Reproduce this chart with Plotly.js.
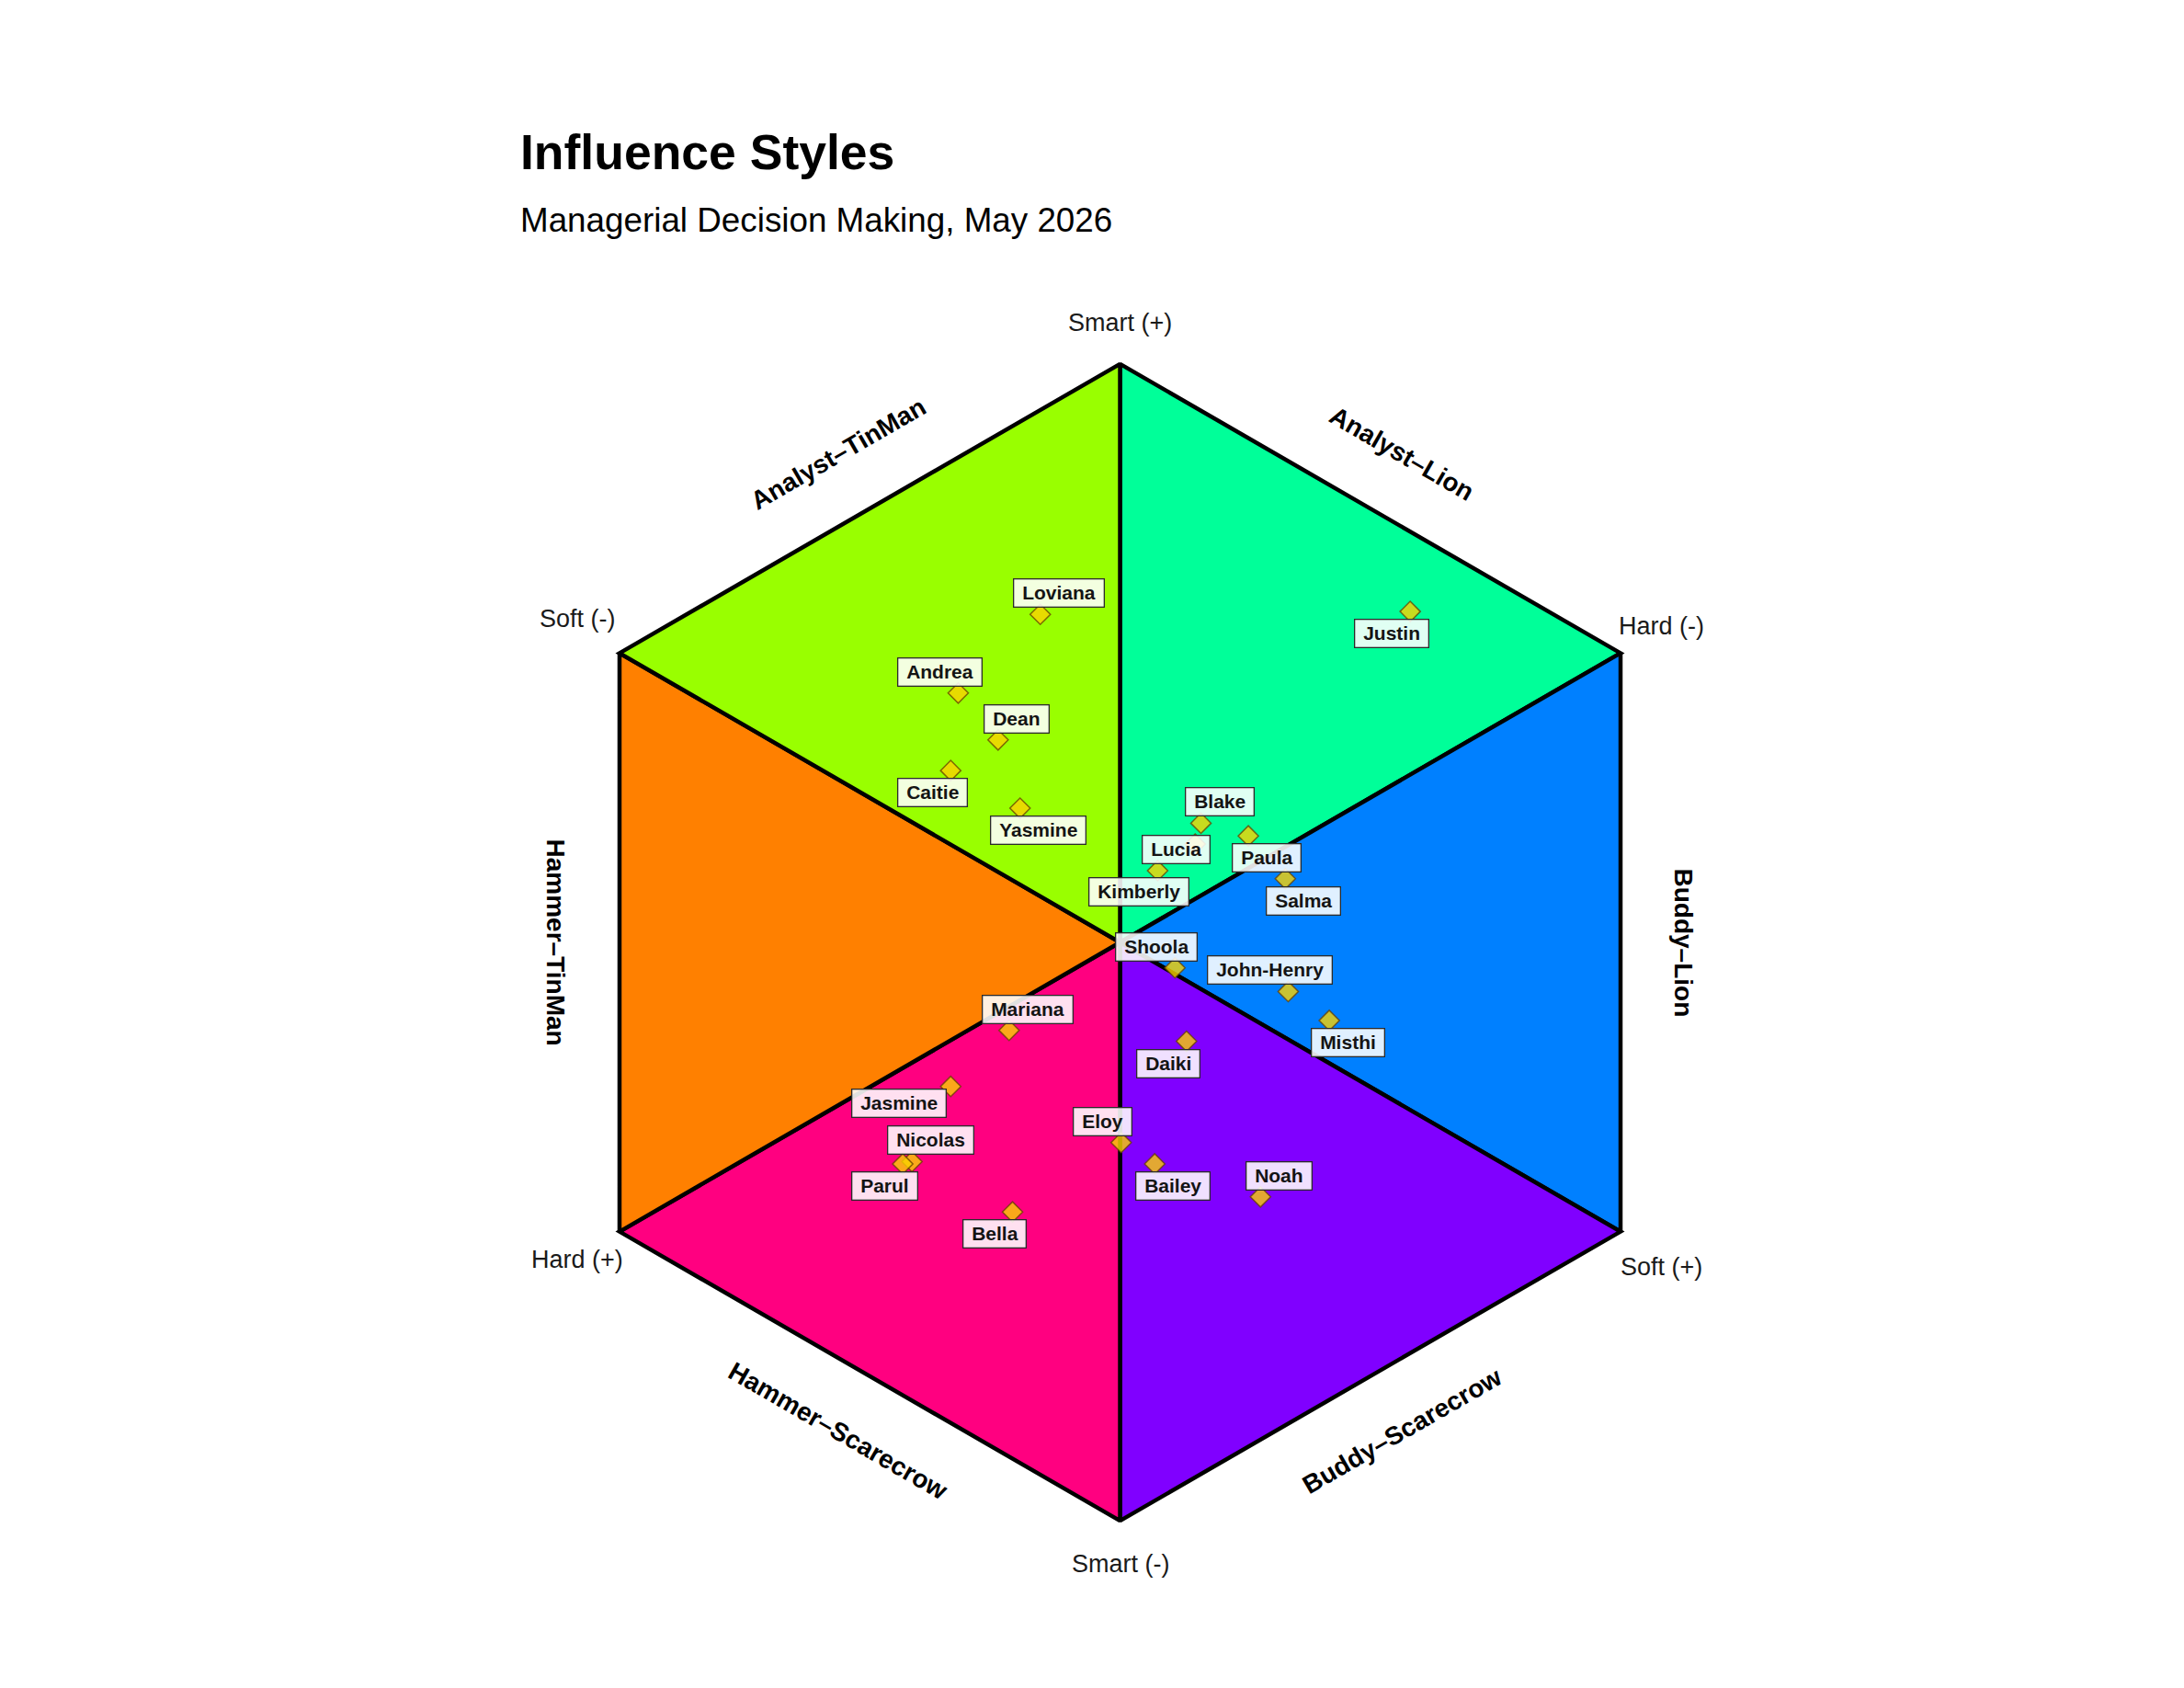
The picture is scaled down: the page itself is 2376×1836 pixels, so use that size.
<!DOCTYPE html>
<html>
<head>
<meta charset="utf-8">
<script src="https://cdn.plot.ly/plotly-3.0.1.min.js"></script>
<style>
  body { margin: 0; background: #fff; }
  #hexPlot { width: 2376px; height: 1836px; }
</style>
</head>
<body>
<div id="hexPlot"></div>
<script>
// People and their position on the influence hexagon (hexagon radius = 1)
const names = ['Loviana', 'Andrea', 'Dean', 'Caitie', 'Yasmine', 'Justin', 'Blake', 'Paula',
  'Lucia', 'Kimberly', 'Salma', 'Shoola', 'John-Henry', 'Misthi', 'Daiki', 'Mariana',
  'Jasmine', 'Nicolas', 'Parul', 'Bella', 'Eloy', 'Bailey', 'Noah'];
const xValues = [-0.138, -0.280, -0.211, -0.293, -0.173, 0.502, 0.140, 0.222,
  0.065, 0.130, 0.286, 0.095, 0.291, 0.362, 0.115, -0.192,
  -0.293, -0.360, -0.376, -0.186, 0.002, 0.060, 0.243];
const yValues = [0.567, 0.431, 0.350, 0.297, 0.232, 0.572, 0.206, 0.184,
  0.124, 0.170, 0.110, -0.044, -0.085, -0.135, -0.171, -0.152,
  -0.249, -0.379, -0.383, -0.466, -0.346, -0.383, -0.440];
// which side of the marker the name tag sits on
const labelDir = ['NE', 'NW', 'NE', 'SW', 'SE', 'SW', 'NE', 'SE',
  'NE', 'SW2', 'SE', 'NW', 'NW', 'SE', 'SW', 'NE',
  'W', 'NE', 'SW', 'SW', 'NW', 'SE', 'NE'];

// Hexagon: corners and sectors, going clockwise from the top
const cornerAngles = [90, 30, -30, -90, -150, 150];
const cornerLabels = ['Smart (+)', 'Hard (-)', 'Soft (+)', 'Smart (-)', 'Hard (+)', 'Soft (-)'];
const sectorNames = ['Analyst\u2013Lion', 'Buddy\u2013Lion', 'Buddy\u2013Scarecrow',
  'Hammer\u2013Scarecrow', 'Hammer\u2013TinMan', 'Analyst\u2013TinMan'];
const sectorColors = ['#00FF99', '#0080FF', '#8000FF', '#FF0080', '#FF8000', '#99FF00'];

const FONT = 'Liberation Sans, Arial, Helvetica, sans-serif';
const rad = d => d * Math.PI / 180;
const corner = i => [Math.cos(rad(cornerAngles[i % 6])), Math.sin(rad(cornerAngles[i % 6]))];

const traces = [];

// coloured triangles
sectorNames.forEach((name, i) => {
  const a = corner(i), b = corner(i + 1);
  traces.push({
    x: [0, a[0], b[0], 0],
    y: [0, a[1], b[1], 0],
    mode: 'lines',
    fill: 'toself',
    fillcolor: sectorColors[i],
    line: { color: '#000', width: 4.5 },
    hoverinfo: 'skip',
    showlegend: false
  });
});

// people
traces.push({
  x: xValues,
  y: yValues,
  text: names,
  mode: 'markers',
  type: 'scatter',
  marker: {
    symbol: 'diamond',
    size: 17,
    color: 'rgba(250,210,0,0.8)',
    line: { color: 'rgba(100,60,0,0.75)', width: 1.5 }
  },
  hoverinfo: 'text',
  showlegend: false
});

const shifts = {
  NE: [20, 23], NW: [-20, 23], SE: [20, -24], SW: [-20, -24],
  SW2: [-61, -52], W: [-56, -18]
};

const annotations = [];

names.forEach((n, i) => {
  const s = shifts[labelDir[i]];
  annotations.push({
    x: xValues[i], y: yValues[i], xref: 'x', yref: 'y',
    text: '\u00a0' + n + '\u00a0',
    showarrow: false,
    xshift: s[0], yshift: s[1],
    font: { family: FONT, size: 21, color: '#141414', weight: 'bold' },
    bgcolor: 'rgba(255,255,255,0.88)',
    bordercolor: '#2a2a2a',
    borderwidth: 1.3,
    borderpad: 3
  });
});

// corner labels sit a little outside each corner
const cornerR = [1.072, 1.085, 1.092, 1.074, 1.088, 1.092];
const cornerA = [90, 30.3, -30.9, -90, -149.75, 149.2];
cornerLabels.forEach((t, i) => {
  annotations.push({
    x: cornerR[i] * Math.cos(rad(cornerA[i])), y: cornerR[i] * Math.sin(rad(cornerA[i])),
    xref: 'x', yref: 'y', text: t, showarrow: false,
    font: { family: FONT, size: 27, color: '#1a1a1a' }
  });
});

sectorNames.forEach((t, i) => {
  const a = cornerAngles[i] - 30;
  let ang = 90 - a;
  if (ang > 90) ang -= 180;
  annotations.push({
    x: 0.975 * Math.cos(rad(a)), y: 0.975 * Math.sin(rad(a)),
    xref: 'x', yref: 'y', text: t, showarrow: false, textangle: ang,
    font: { family: FONT, size: 28, color: '#000', weight: 'bold' }
  });
});

annotations.push({
  xref: 'paper', yref: 'paper', x: 0.0662, y: 1.0695, xanchor: 'left', yanchor: 'middle',
  text: 'Influence Styles', showarrow: false,
  font: { family: FONT, size: 53.5, color: '#000', weight: 'bold' }
});
annotations.push({
  xref: 'paper', yref: 'paper', x: 0.0662, y: 1.0204, xanchor: 'left', yanchor: 'middle',
  text: 'Managerial Decision Making, May 2026', showarrow: false,
  font: { family: FONT, size: 36.8, color: '#000' }
});

const layout = {
  width: 2376,
  height: 1836,
  margin: { l: 464, r: 403, t: 270, b: 56 },
  paper_bgcolor: '#fff',
  plot_bgcolor: '#fff',
  xaxis: { range: [-1.2, 1.2], visible: false, fixedrange: true },
  yaxis: { range: [-1.2, 1.2], visible: false, fixedrange: true },
  annotations: annotations,
  showlegend: false
};

Plotly.newPlot('hexPlot', traces, layout, { displayModeBar: false, staticPlot: true });
</script>
</body>
</html>
